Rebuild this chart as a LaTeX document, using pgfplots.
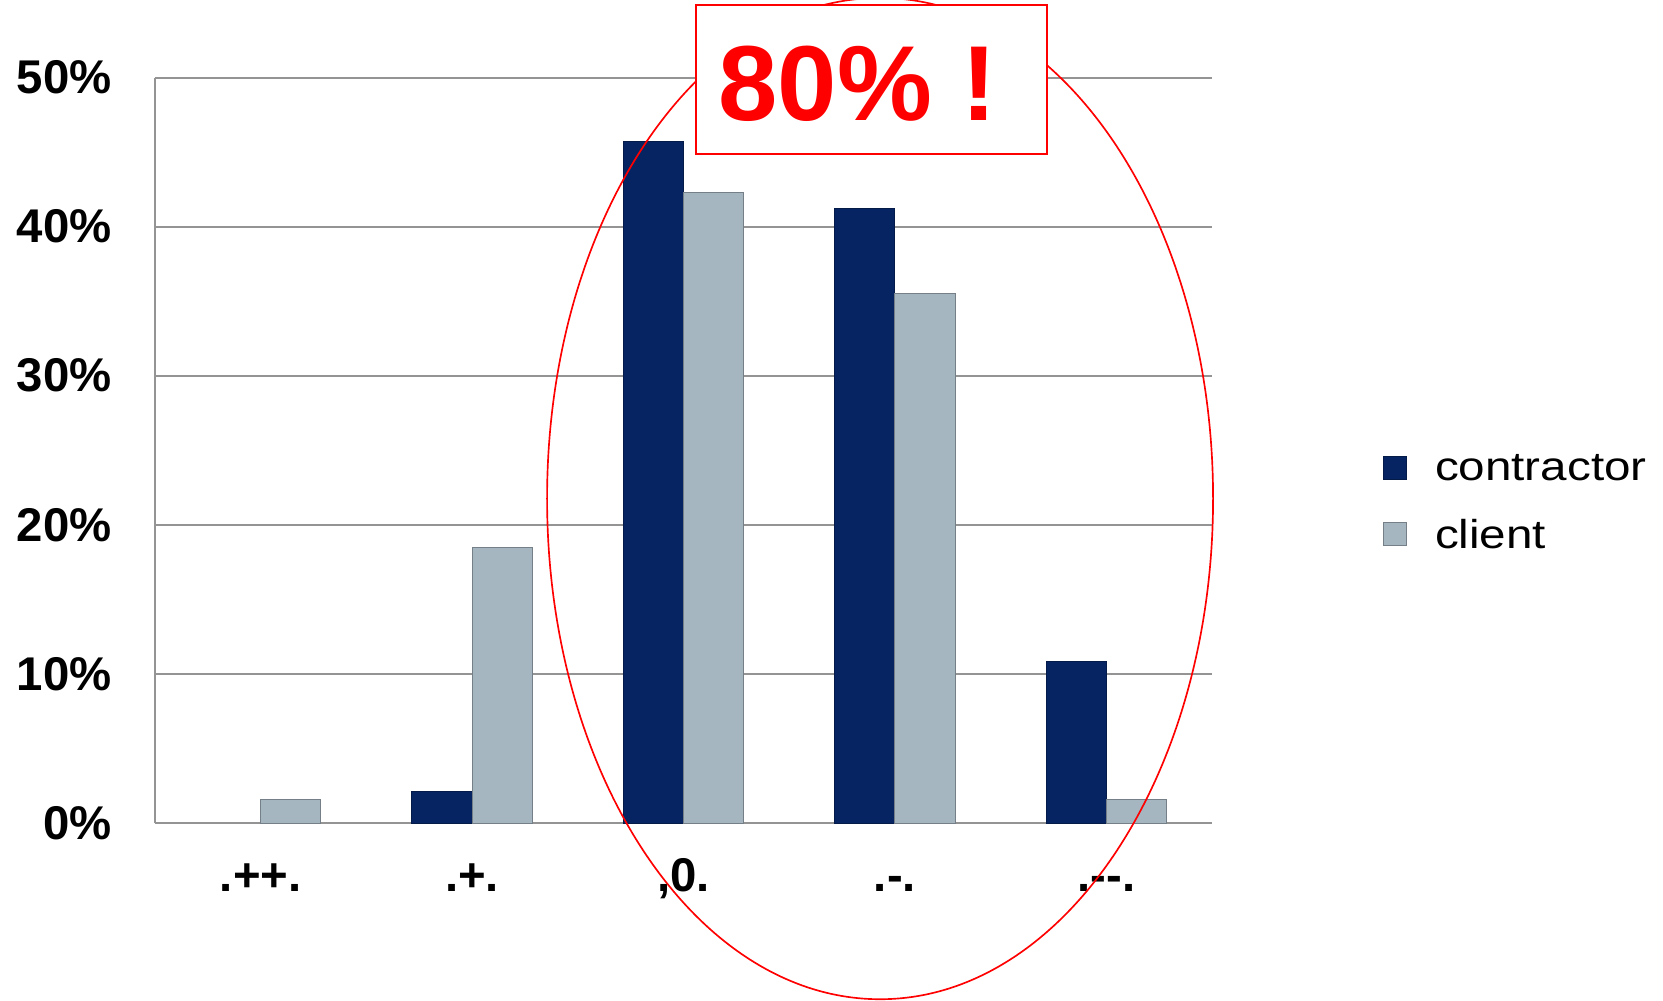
\documentclass[border=0pt]{standalone}
\usepackage{pgfplots}
\pgfplotsset{compat=1.18}
\usepackage{fontspec}
\setmainfont{Liberation Sans}
\usepackage{graphicx}
\definecolor{contr}{HTML}{062462}
\definecolor{clnt}{HTML}{A6B6C1}
\definecolor{gridc}{HTML}{949494}
\newcommand{\ylab}[1]{{\fontsize{14.2}{16}\selectfont\bfseries #1}}
\newcommand{\xlab}[1]{{\fontsize{14.2}{16}\selectfont\bfseries #1}}
\newcommand{\leglab}[1]{\scalebox{1.18}[1]{\fontsize{12.1}{14}\selectfont #1}}
\begin{document}
\begin{tikzpicture}
\path[use as bounding box] (-46.5pt,-53.4pt) rectangle (452.4pt,246.9pt);
\begin{axis}[
  at={(0,0)}, anchor=south west,
  scale only axis, width=317.1pt, height=223.65pt,
  xmin=-0.5, xmax=4.5, ymin=0, ymax=50,
  axis x line=bottom, axis y line=left,
  axis line style={gridc, line width=0.6pt, -},
  ymajorgrids, grid style={gridc, line width=0.6pt},
  major tick length=0pt,
  xtick={0,1,2,3,4},
  xticklabels={\xlab{.++.}, \xlab{.+.}, \xlab{,0.}, \xlab{.-.}, \xlab{.{-}{-}.}},
  ytick={0,10,20,30,40,50},
  yticklabels={\ylab{0\%}, \ylab{10\%}, \ylab{20\%}, \ylab{30\%}, \ylab{40\%}, \ylab{50\%}},
  yticklabel style={anchor=east, inner sep=0pt, xshift=-12.8pt},
  xticklabel style={anchor=base, inner sep=0pt, yshift=-20.4pt},
  clip=false,
  legend style={at={(rel axis cs:1.1618,0.4283)}, anchor=west, draw=none, fill=none,
    inner sep=0pt, outer sep=0pt, row sep=10pt, column sep=8.4pt,
    nodes={inner sep=0pt}},
  legend cell align=left,
]
\addplot[ybar, bar width=0.285, bar shift=-0.1425, fill=contr, draw=contr!75!black, line width=0.3pt,
  legend image code/.code={\fill[contr, draw=contr!75!black, line width=0.3pt] (0pt,-2.9pt) rectangle (6.9pt,4.0pt);}]
  coordinates {(1,2.1) (2,45.7) (3,41.2) (4,10.8)};
\addlegendentry{\leglab{contractor}}
\addplot[ybar, bar width=0.285, bar shift=0.1425, fill=clnt, draw=clnt!70!black, line width=0.3pt,
  legend image code/.code={\fill[clnt, draw=clnt!70!black, line width=0.3pt] (0pt,-2.9pt) rectangle (6.9pt,4.0pt);}]
  coordinates {(0,1.6) (1,18.5) (2,42.3) (3,35.5) (4,1.6)};
\addlegendentry{\leglab{client}}
\draw[red, line width=0.5pt] (axis cs:2.93,21.76) ellipse [x radius=99.9pt, y radius=150.2pt];
\node[draw=red, line width=0.6pt, fill=white, minimum width=105.3pt, minimum height=44.7pt, inner sep=0pt]
  at (axis cs:2.889,49.87) {};
\node[text=red, inner sep=0pt, anchor=base west, font=\fontsize{32}{32}\selectfont\bfseries]
  at (axis cs:2.163,47.15) {80\% !};
\end{axis}
\end{tikzpicture}
\end{document}
